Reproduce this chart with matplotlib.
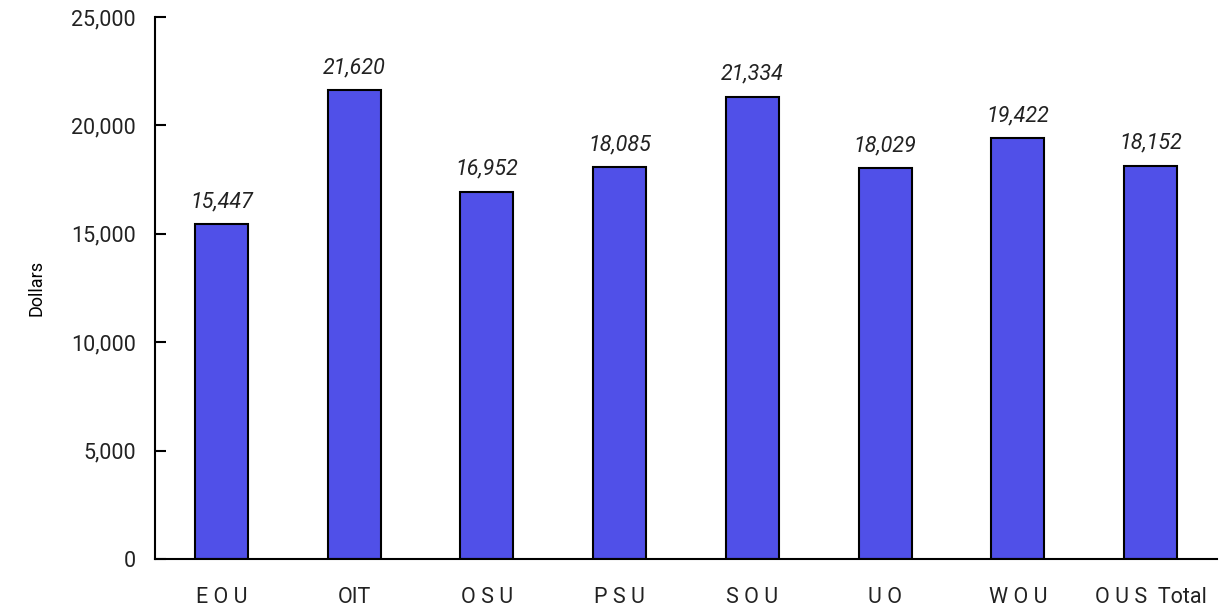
#!/usr/bin/env python3
import matplotlib
matplotlib.use('Agg')
import matplotlib.pyplot as plt

categories = ['EOU', 'OIT', 'OSU', 'PSU', 'SOU', 'UO', 'WOU', 'OUS Total']
tick_labels = ['E O U', 'OIT', 'O S U', 'P S U', 'S O U', 'U O', 'W O U', 'O U S  Total']
values = [15447, 21620, 16952, 18085, 21334, 18029, 19422, 18152]

plt.rcParams['font.family'] = ['Roboto', 'DejaVu Sans']

fig = plt.figure(figsize=(12.21, 6.10), dpi=100)
ax = fig.add_axes([0.127, 0.0836, 0.8697, 0.8884])

x = list(range(len(categories)))
ax.bar(x, values, width=0.4, color='#5050E8', edgecolor='black', linewidth=1.5, zorder=2)

for xi, v in zip(x, values):
    ax.text(xi, v + 550, f'{v:,}', ha='center', va='bottom', fontsize=15.5,
            style='italic', color='#222222')

ax.set_xlim(-0.5, 7.5)
ax.set_ylim(0, 25000)
ax.set_yticks(range(0, 25001, 5000))
ax.set_yticklabels([f'{t:,}' for t in range(0, 25001, 5000)], fontsize=15.5, color='#222222')
ax.set_xticks(x)
ax.set_xticklabels(tick_labels, fontsize=15.5, color='#222222')
ax.tick_params(axis='x', length=0, pad=20)
ax.tick_params(axis='y', direction='in', length=8, width=1.5, pad=14)
ax.set_ylabel('Dollars', fontsize=13, labelpad=18)

for s in ['top', 'right']:
    ax.spines[s].set_visible(False)
ax.spines['left'].set_linewidth(1.5)
ax.spines['bottom'].set_linewidth(1.5)

fig.savefig('out.png')
